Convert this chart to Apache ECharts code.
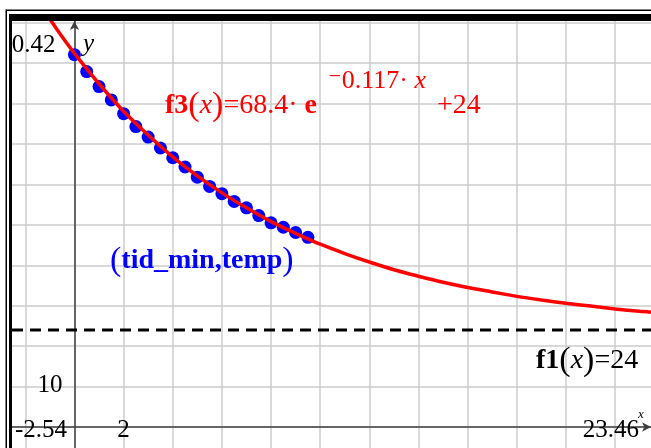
<!DOCTYPE html>
<html>
<head>
<meta charset="utf-8">
<script src="https://cdn.jsdelivr.net/npm/echarts@6/dist/echarts.min.js"></script>
<style>
  html, body { margin: 0; padding: 0; background: #fff; }
  #chart { width: 651px; height: 448px; }
</style>
</head>
<body>
<div id="chart"></div>
<script>
// window of the graph
const xRange = [-2.54, 23.46]
const yRange = [-5.2, 100.42]
const xGrid = [-2, 0, 2, 4, 6, 8, 10, 12, 14, 16, 18, 20, 22]
const yGrid = [0, 10, 20, 30, 40, 50, 60, 70, 80, 90, 100]

// measured points (tid_min, temp)
const tidMin = [0, 0.5, 1, 1.5, 2, 2.5, 3, 3.5, 4, 4.5, 5, 5.5, 6, 6.5, 7, 7.5, 8, 8.5, 9, 9.5]
const temp = [92.1, 87.9, 84.2, 80.9, 77.5, 74.3, 71.7, 69.0, 66.6, 64.3, 61.8, 59.5, 57.7, 55.8, 54.2, 52.3, 50.5, 49.4, 48.1, 46.9]

// f3 curve
const f3X = [-1, -0.5, 0, 1, 2, 3, 4, 5, 6, 7, 8, 9, 10, 11, 12, 13, 14, 15, 16, 17, 18, 19, 20, 21, 22, 23, 23.46]
const f3Y = [100.9, 96.5, 92.4, 84.9, 78.1, 72.2, 66.8, 62.1, 57.9, 54.2, 50.8, 47.9, 45.2, 42.9, 40.8, 38.9, 37.3, 35.8, 34.5, 33.4, 32.3, 31.4, 30.6, 29.9, 29.2, 28.6, 28.4]

// f1(x)=24
const f1X = [-2.54, 23.46]
const f1Y = [24, 24]

// tick labels
const xLabels = ['-2.54', '2', '23.46']
const xLabelVals = [-2.54, 2, 23.46]
const yLabels = ['10', '100.42']
const yLabelVals = [10, 100.42]

const SERIF = "'Liberation Serif', 'DejaVu Serif', serif"
const RED = '#ff0000'
const BLUE = '#0000ff'

const chart = echarts.init(document.getElementById('chart'))

const axisCommon = {
  type: 'value',
  axisLine: {
    show: true,
    onZero: true,
    symbol: ['none', 'arrow'],
    symbolSize: [7, 9],
    lineStyle: { color: '#404040', width: 1.5 }
  },
  axisLabel: { show: false },
  splitLine: { show: true, lineStyle: { color: '#cccccc', width: 1.5 } }
}

chart.setOption({
  animation: false,
  grid: { left: 12, right: 0, top: 21, bottom: 0, containLabel: false },
  xAxis: Object.assign({}, axisCommon, {
    min: xRange[0], max: xRange[1],
    axisTick: { show: false, customValues: xGrid }
  }),
  yAxis: Object.assign({}, axisCommon, {
    min: yRange[0], max: yRange[1],
    axisTick: { show: false, customValues: yGrid }
  }),
  series: [
    {
      name: 'f1',
      type: 'line',
      data: f1X.map((x, i) => [x, f1Y[i]]),
      showSymbol: false,
      lineStyle: { color: '#000', width: 3, type: [11, 7] },
      z: 2
    },
    {
      name: '(tid_min,temp)',
      type: 'scatter',
      data: tidMin.map((x, i) => [x, temp[i]]),
      symbolSize: 13,
      itemStyle: { color: BLUE, opacity: 1 },
      z: 3
    },
    {
      name: 'f3',
      type: 'line',
      data: f3X.map((x, i) => [x, f3Y[i]]),
      smooth: 0.3,
      showSymbol: false,
      clip: true,
      lineStyle: { color: RED, width: 3.5 },
      z: 4
    }
  ]
})

const px = (x, y) => chart.convertToPixel({ gridIndex: 0 }, [x, y])

function txt(x, y, text, opts) {
  return {
    type: 'text', x: x, y: y, z: 20,
    style: Object.assign({
      text: text, font: '25px ' + SERIF, fill: '#000',
      align: 'left', verticalAlign: 'middle'
    }, opts || {})
  }
}

// rich styles for "name(x)=..." labels
function richFor(color) {
  return {
    b: { fontFamily: SERIF, fontSize: 28, fontWeight: 'bold', fill: color },
    p: { fontFamily: SERIF, fontSize: 34, fill: color },
    i: { fontFamily: SERIF, fontSize: 28, fontStyle: 'italic', fill: color },
    n: { fontFamily: SERIF, fontSize: 28, fill: color },
    s: { fontFamily: SERIF, fontSize: 26, fill: color },
    si: { fontFamily: SERIF, fontSize: 26, fontStyle: 'italic', fill: color }
  }
}

const graphics = []

// tick labels
const xl0 = px(xLabelVals[0], 0), xl1 = px(xLabelVals[1], 0), xl2 = px(xLabelVals[2], 0)
graphics.push(txt(xl0[0] + 3, xl0[1] + 3, xLabels[0]))
graphics.push(txt(xl1[0], xl1[1] + 3, xLabels[1], { align: 'center' }))
graphics.push(txt(xl2[0] - 12, xl2[1] + 3, xLabels[2], { align: 'right' }))
const yl0 = px(0, yLabelVals[0]), yl1 = px(0, yLabelVals[1])
graphics.push(txt(yl0[0] - 12, yl0[1] - 1, yLabels[0], { align: 'right' }))
graphics.push(txt(yl1[0] - 19, yl1[1] + 24, yLabels[1], { align: 'right' }))

// axis names
graphics.push(txt(yl1[0] + 14, yl1[1] + 23, 'y', { font: 'italic 25px ' + SERIF, align: 'center' }))
graphics.push(txt(xl2[0] - 10, xl2[1] - 12, 'x', { font: 'italic 13px ' + SERIF, align: 'center' }))

// f3 label
graphics.push({
  type: 'text', x: 165, y: 106, z: 20,
  style: { text: '{b|f3}{p|(}{i|x}{p|)}{n|=68.4· }{b|e}', rich: richFor(RED), verticalAlign: 'middle' }
})
graphics.push({
  type: 'text', x: 328, y: 81, z: 20,
  style: { text: '{s|⁻0.117· }{si|x}', rich: richFor(RED), verticalAlign: 'middle' }
})
graphics.push({
  type: 'text', x: 437, y: 106, z: 20,
  style: { text: '{n|+24}', rich: richFor(RED), verticalAlign: 'middle' }
})

// scatter label
graphics.push({
  type: 'text', x: 110, y: 261, z: 20,
  style: { text: '{p|(}{b|tid_min,temp}{p|)}', rich: richFor(BLUE), verticalAlign: 'middle' }
})

// f1 label
graphics.push({
  type: 'text', x: 536, y: 361, z: 20,
  style: { text: '{b|f1}{p|(}{i|x}{p|)}{n|=24}', rich: richFor('#000'), verticalAlign: 'middle' }
})

// frame of the graph window
graphics.push({ type: 'rect', z: 30, shape: { x: 0, y: 0, width: 11, height: 448 }, style: { fill: '#fff' } })
graphics.push({ type: 'rect', z: 30, shape: { x: 0, y: 0, width: 651, height: 21 }, style: { fill: '#fff' } })
graphics.push({ type: 'rect', z: 31, shape: { x: 6, y: 9.5, width: 645, height: 1.5 }, style: { fill: '#000' } })
graphics.push({ type: 'rect', z: 31, shape: { x: 5.5, y: 9.5, width: 1.5, height: 439 }, style: { fill: '#000' } })
graphics.push({ type: 'rect', z: 31, shape: { x: 9, y: 14, width: 642, height: 7 }, style: { fill: '#000' } })
graphics.push({ type: 'rect', z: 31, shape: { x: 9, y: 14, width: 3, height: 434 }, style: { fill: '#000' } })

chart.setOption({ graphic: graphics })
</script>
</body>
</html>
